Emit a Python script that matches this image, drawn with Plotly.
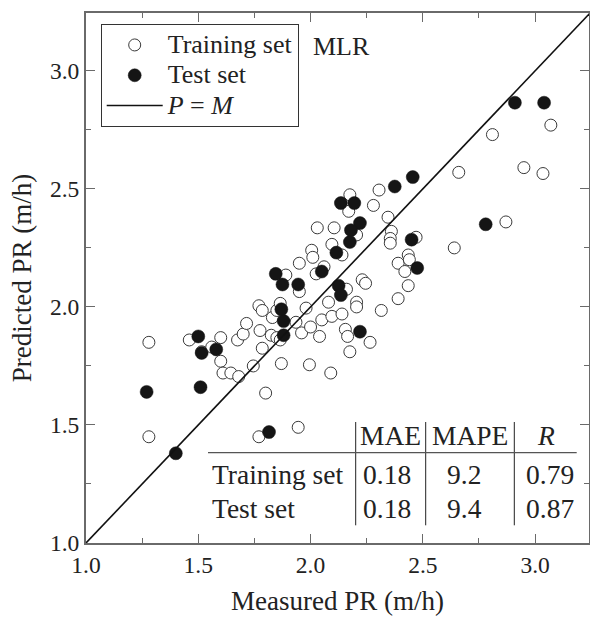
import plotly.graph_objects as go

# ---------------- data ----------------
train_measured = [1.28, 1.46, 1.515, 1.60, 1.56, 1.60, 1.61, 1.645, 1.68, 1.675, 1.70, 1.715, 1.745, 1.80,
                  1.785, 1.775, 1.77, 1.785, 1.83, 1.825, 1.85, 1.865, 1.85, 1.865, 1.87, 1.89, 1.935, 1.96,
                  1.95, 1.98, 1.95, 2.00, 1.995, 2.005, 2.01, 2.025, 2.04, 2.05, 2.08, 2.095, 2.09, 2.095,
                  2.14, 2.155, 2.165, 2.175, 2.205, 2.205, 2.23, 2.245, 2.14, 2.16, 2.265,
                  2.66, 2.95, 3.035, 2.87, 2.64, 2.305, 2.28, 2.175, 2.17, 2.345, 2.36, 2.355, 2.355, 2.47,
                  2.03, 2.105, 2.205, 2.06, 2.39, 2.435, 2.44, 2.42, 2.435, 2.39, 2.315,
                  2.81, 3.07, 1.28, 1.77, 1.945]
train_predicted = [1.85, 1.86, 1.81, 1.87, 1.83, 1.77, 1.72, 1.72, 1.705, 1.86, 1.885, 1.93, 1.75, 1.635,
                   1.825, 1.90, 2.005, 1.985, 1.955, 1.88, 1.87, 1.86, 1.985, 2.015, 1.76, 2.135, 1.935, 1.89,
                   2.065, 1.995, 2.185, 1.915, 1.755, 2.24, 2.21, 2.14, 1.875, 1.945, 2.02, 1.96, 1.72, 2.265,
                   1.97, 1.905, 1.875, 1.81, 2.02, 2.00, 2.115, 2.10, 2.22, 2.075, 1.85,
                   2.57, 2.59, 2.565, 2.36, 2.25, 2.495, 2.43, 2.475, 2.405, 2.38, 2.32, 2.29, 2.27, 2.295,
                   2.335, 2.335, 2.305, 2.17, 2.185, 2.22, 2.20, 2.15, 2.09, 2.035, 1.985,
                   2.73, 2.77, 1.45, 1.45, 1.49]

test_measured = [1.27, 1.51, 1.50, 1.515, 1.58, 1.845, 1.875, 1.945, 2.05, 2.115, 2.175, 2.125, 2.135,
                 2.22, 1.87, 1.88, 1.88, 2.455, 2.375, 2.135, 2.195, 2.22, 2.18, 2.45, 2.475, 2.78,
                 2.91, 3.04, 1.815, 1.40]
test_predicted = [1.64, 1.66, 1.875, 1.805, 1.82, 2.14, 2.095, 2.095, 2.15, 2.23, 2.275, 2.09, 2.05,
                  1.895, 1.99, 1.94, 1.88, 2.55, 2.51, 2.44, 2.44, 2.355, 2.325, 2.285, 2.165, 2.35,
                  2.865, 2.865, 1.47, 1.38]

identity_line = [1.0, 3.3]

x_ticks = [1.0, 1.5, 2.0, 2.5, 3.0]
y_ticks = [1.0, 1.5, 2.0, 2.5, 3.0]

legend_names = ["Training set", "Test set", "<i>P</i> = <i>M</i>"]

table_header = ["MAE", "MAPE", "<i>R</i>"]
table_rows = ["Training set", "Test set"]
mae_values = ["0.18", "0.18"]
mape_values = ["9.2", "9.4"]
r_values = ["0.79", "0.87"]

# ---------------- layout helpers ----------------
W, H = 590, 626
L, R, T, B = 86, 589, 12.7, 542.7
PW, PH = R - L, B - T


def px(xp):
    return (xp - L) / PW


def py(yp):
    return (B - yp) / PH


def big(t, size=26):
    return f'<span style="font-size:{size}px">{t}</span>'


FONT = "Liberation Serif"

fig = go.Figure()
fig.add_trace(go.Scatter(
    x=train_measured, y=train_predicted, mode="markers", name=big(legend_names[0]),
    marker=dict(symbol="circle", size=12, color="white", line=dict(color="#3a3a3a", width=1)),
))
fig.add_trace(go.Scatter(
    x=test_measured, y=test_predicted, mode="markers", name=big(legend_names[1]),
    marker=dict(symbol="circle", size=13, color="#151515", line=dict(color="#151515", width=0.5)),
))
fig.add_trace(go.Scatter(
    x=identity_line, y=identity_line, mode="lines", name=big(legend_names[2]),
    line=dict(color="#111111", width=1.6),
))

axis_common = dict(
    showgrid=False, zeroline=False, showline=True, linecolor="#6a6a6a", linewidth=2,
    mirror="ticks", ticks="inside", ticklen=9, tickwidth=1.3, tickcolor="#6a6a6a",
    tickfont=dict(family=FONT, size=23.5, color="#222"), automargin=False,
    minor=dict(ticks="inside", ticklen=5, tickwidth=1.3, tickcolor="#6a6a6a", dtick=0.25, showgrid=False),
)

fig.update_layout(
    width=W, height=H, autosize=False,
    margin=dict(l=L, r=W - R, t=T, b=H - B),
    paper_bgcolor="white", plot_bgcolor="white",
    font=dict(family=FONT, color="#222"),
    xaxis=dict(range=[1.0, 3.24], tickvals=x_ticks, ticktext=[f"{v:.1f}" for v in x_ticks],
               title=dict(text="Measured PR (m/h)", font=dict(family=FONT, size=27), standoff=14),
               **axis_common),
    yaxis=dict(range=[1.0, 3.245], tickvals=y_ticks, ticktext=[f"{v:.1f}" for v in y_ticks],
               title=dict(text="Predicted PR (m/h)", font=dict(family=FONT, size=27), standoff=10),
               **axis_common),
    legend=dict(x=px(100.7), y=py(23.5), xanchor="left", yanchor="top",
                bgcolor="white", bordercolor="#333", borderwidth=1,
                font=dict(family=FONT, size=21, color="#222"), itemwidth=56,
                tracegroupgap=0),
    showlegend=True,
)

# MLR label
fig.add_annotation(x=px(311), y=py(46.7), xref="paper", yref="paper", text="MLR",
                   showarrow=False, xanchor="left", yanchor="middle",
                   font=dict(family=FONT, size=26, color="#222"))

# Table
col_centers = [390, 470, 546]
val_centers = [387, 464, 550]
row_y = [474, 508]
header_y = 435
tfont = dict(family=FONT, size=27.5, color="#222")
for name, cx in zip(table_header, col_centers):
    fig.add_annotation(x=px(cx), y=py(header_y), xref="paper", yref="paper", text=name,
                       showarrow=False, xanchor="center", yanchor="middle", font=tfont)
for i, rname in enumerate(table_rows):
    fig.add_annotation(x=px(210), y=py(row_y[i]), xref="paper", yref="paper", text=rname,
                       showarrow=False, xanchor="left", yanchor="middle", font=tfont)
    for vals, cx in zip([mae_values, mape_values, r_values], val_centers):
        fig.add_annotation(x=px(cx), y=py(row_y[i]), xref="paper", yref="paper", text=vals[i],
                           showarrow=False, xanchor="center", yanchor="middle", font=tfont)

for vx in [355.7, 425.7, 514.3]:
    fig.add_shape(type="line", xref="paper", yref="paper", x0=px(vx), x1=px(vx),
                  y0=py(421.7), y1=py(525), line=dict(color="#222", width=1))
fig.add_shape(type="line", xref="paper", yref="paper", x0=px(208), x1=px(576.7),
              y0=py(452.3), y1=py(452.3), line=dict(color="#555", width=1.3))

post = (
    "document.documentElement.style.margin='0';"
    "document.body.style.margin='0';document.body.style.padding='0';"
    "document.body.style.overflow='hidden';"
    "var gd=document.getElementById('{plot_id}');"
    "Plotly.relayout(gd,{width:%d,height:%d});" % (W, H)
)

fig.write_html("out.html", config={"responsive": False, "displayModeBar": False},
               post_script=post)
